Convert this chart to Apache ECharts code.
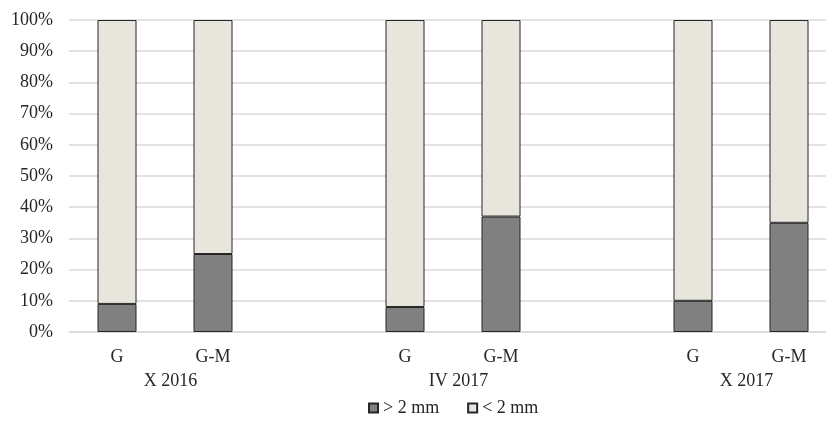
<!DOCTYPE html>
<html>
<head>
<meta charset="utf-8">
<script src="https://cdn.jsdelivr.net/npm/echarts@6/dist/echarts.min.js"></script>
<style>
html,body{margin:0;padding:0;background:#fff;}
#chart{width:826px;height:428px;}
</style>
</head>
<body>
<div id="chart"></div>
<script>
const categories = ['G', 'G-M', '', 'G', 'G-M', '', 'G', 'G-M'];
const groupLabels = ['', 'X 2016', '', '', 'IV 2017', '', '', 'X 2017', ''];
const seriesNames = ['> 2 mm', '< 2 mm'];
const coarse = [9, 25, '-', 8, 37, '-', 10, 35];
const fine = [91, 75, '-', 92, 63, '-', 90, 65];

const FONT = 'Liberation Serif';
const TXT = '#262626';
const chart = echarts.init(document.getElementById('chart'));
chart.setOption({
  animation: false,
  backgroundColor: '#ffffff',
  textStyle: { fontFamily: FONT },
  grid: { left: 69, width: 768, top: 20, bottom: 96, outerBoundsMode: 'none' },
  legend: {
    bottom: 6,
    left: 363,
    icon: 'rect',
    itemWidth: 9,
    itemHeight: 9,
    itemGap: 28,
    textStyle: { fontFamily: FONT, fontSize: 18, color: TXT },
    data: seriesNames
  },
  xAxis: [
    {
      type: 'category',
      data: categories,
      axisLine: { lineStyle: { color: '#d9d9d9', width: 1.5 } },
      axisTick: { show: false },
      axisLabel: { interval: 0, margin: 16, fontFamily: FONT, fontSize: 18, color: TXT }
    },
    {
      type: 'category',
      position: 'bottom',
      boundaryGap: false,
      data: groupLabels,
      axisLine: { show: false },
      axisTick: { show: false },
      splitLine: { show: false },
      axisLabel: { interval: 0, margin: 40, padding: [0, 0, 0, 11], fontFamily: FONT, fontSize: 18, color: TXT }
    }
  ],
  yAxis: {
    type: 'value',
    min: 0,
    max: 100,
    interval: 10,
    axisLine: { show: false },
    axisTick: { show: false },
    splitLine: { lineStyle: { color: '#d9d9d9', width: 1.5 } },
    axisLabel: { formatter: '{value}%', margin: 16, fontFamily: FONT, fontSize: 18, color: TXT }
  },
  series: [
    {
      name: seriesNames[0],
      type: 'bar',
      stack: 'total',
      xAxisIndex: 0,
      barWidth: 39,
      data: coarse,
      itemStyle: { color: '#808080', borderColor: '#262626', borderWidth: 1 }
    },
    {
      name: seriesNames[1],
      type: 'bar',
      stack: 'total',
      xAxisIndex: 0,
      barWidth: 39,
      data: fine,
      itemStyle: { color: '#e8e6dc', borderColor: '#262626', borderWidth: 1 }
    }
  ]
});
</script>
</body>
</html>
